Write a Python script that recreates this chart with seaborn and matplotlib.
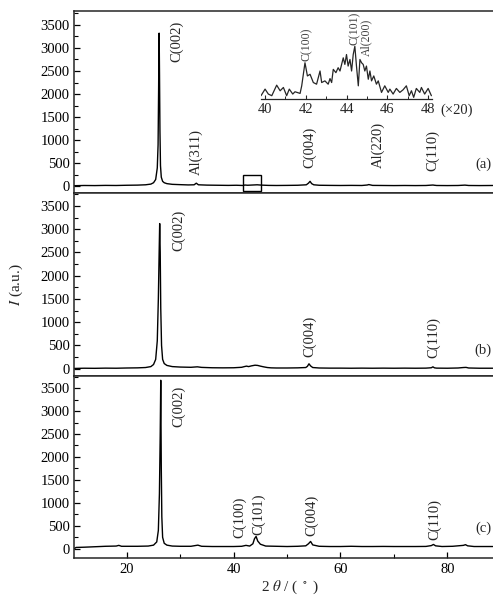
import matplotlib
matplotlib.use("Agg")
import matplotlib.pyplot as plt
from matplotlib.patches import Rectangle
from matplotlib.ticker import MultipleLocator
import seaborn as sns
import pandas as pd

# ---- data (2theta in degrees, intensity in a.u.) ----
tt_a = [10, 12, 14, 16, 18, 20, 22, 23.5, 24.5, 25.0, 25.4, 25.7, 25.85, 25.95, 26.0,
        26.05, 26.12, 26.2, 26.3, 26.45, 26.7, 27.0, 27.5, 28.5, 30, 31.5, 32.6, 33.0,
        33.4, 35, 37, 39, 40.5, 41.8, 42.1, 42.6, 43.5, 44.4, 45.2, 46.5, 48, 50, 52,
        53.6, 54.0, 54.3, 54.6, 55.0, 56, 58, 60, 62, 64, 65.0, 65.3, 66, 68, 70, 72,
        74, 76, 77.3, 77.6, 78, 80, 82, 83.3, 84, 86, 88.5]
int_a = [15, 20, 18, 22, 20, 25, 28, 35, 50, 80, 150, 400, 900, 2100, 2900,
         3320, 2400, 1200, 450, 200, 110, 80, 60, 45, 38, 32, 35, 70,
         35, 28, 25, 22, 25, 20, 30, 25, 30, 35, 28, 22, 20, 22, 25,
         35, 70, 110, 60, 35, 25, 22, 20, 22, 20, 30, 40, 22, 20, 18, 20,
         18, 20, 30, 25, 20, 18, 20, 28, 20, 18, 20]

tt_b = [10, 12, 14, 16, 18, 20, 22, 23.5, 24.5, 25.0, 25.4, 25.7, 25.9, 26.05, 26.15,
        26.25, 26.35, 26.5, 26.7, 27.0, 27.5, 28.5, 30, 32, 33.2, 34, 36, 38, 40, 41.5,
        42.0, 42.4, 42.8, 43.3, 44.0, 44.5, 45.0, 45.6, 46.3, 47, 48, 50, 52, 53.5, 53.8,
        54.1, 54.4, 54.8, 56, 58, 60, 62, 64, 66, 68, 70, 72, 74, 76, 77.0, 77.3, 77.6,
        78, 80, 82, 83.0, 83.5, 84, 86, 88.5]
int_b = [5, 10, 8, 12, 10, 15, 18, 25, 45, 90, 200, 600, 1500, 2500, 3120,
         2500, 1300, 500, 200, 110, 70, 45, 35, 30, 40, 28, 20, 18, 20, 30,
         45, 55, 45, 60, 75, 70, 55, 40, 25, 18, 15, 15, 18, 25, 50,
         105, 60, 25, 15, 12, 12, 10, 12, 10, 12, 10, 12, 10, 12, 20, 40, 18,
         12, 10, 15, 25, 28, 15, 10, 10]

tt_c = [10.1, 10.5, 12, 14, 16, 18, 18.5, 19, 20, 22, 24, 25.0, 25.6, 25.9, 26.1,
        26.25, 26.35, 26.45, 26.55, 26.7, 27.0, 27.5, 28.5, 30, 32, 33.3, 34, 36, 38,
        40, 41.5, 42.3, 43, 43.6, 43.9, 44.2, 44.5, 45, 46, 48, 50, 52, 53.5, 54.0,
        54.4, 54.8, 56, 58, 60, 62, 64, 66, 68, 70, 72, 74, 76, 77.0, 77.4, 77.8, 79,
        81, 83.0, 83.4, 83.8, 85, 88.5]
int_c = [0, 30, 35, 45, 55, 60, 75, 55, 55, 55, 60, 80, 150, 400, 1200,
         2500, 3670, 1770, 700, 250, 120, 80, 60, 55, 55, 80, 55, 50, 50,
         50, 55, 75, 60, 110, 220, 270, 170, 100, 60, 55, 50, 55, 65, 110,
         160, 85, 55, 50, 50, 55, 50, 50, 52, 50, 50, 50, 52, 70, 95, 65, 50,
         55, 75, 90, 65, 50, 50]

# inset: sample (a), 40-48 deg, magnified x20
tt_inset = [39.8, 40.0, 40.16, 40.33, 40.57, 40.74, 40.9, 41.06, 41.19, 41.36, 41.47,
            41.72, 41.8, 41.96, 42.08, 42.21, 42.37, 42.53, 42.7, 42.78, 42.94, 43.1,
            43.19, 43.27, 43.35, 43.48, 43.59, 43.68, 43.84, 43.92, 44.0, 44.08, 44.17,
            44.25, 44.33, 44.41, 44.49, 44.58, 44.66, 44.74, 44.82, 44.9, 44.98, 45.07,
            45.15, 45.23, 45.34, 45.47, 45.56, 45.72, 45.88, 46.05, 46.13, 46.29, 46.45,
            46.62, 46.78, 46.94, 47.08, 47.19, 47.3, 47.43, 47.6, 47.68, 47.84, 48.01, 48.17]
int_inset = [10, 30, 15, 10, 42, 25, 35, 10, 30, 15, 22,
             17, 40, 110, 70, 75, 50, 45, 85, 50, 55, 45,
             62, 50, 90, 80, 95, 85, 125, 105, 135, 100, 120,
             85, 135, 160, 100, 40, 120, 110, 105, 85, 100, 60,
             85, 55, 70, 45, 55, 20, 40, 20, 30, 15, 32,
             20, 28, 40, 10, 25, 5, 32, 20, 35, 15, 32, 10]

# peak labels: (text, 2theta, bottom of text in a.u.)
labels_a = [("C(002)", 29.4, 2700), ("Al(311)", 33.0, 240), ("C(004)", 54.3, 390),
            ("Al(220)", 67.1, 390), ("C(110)", 77.2, 340)]
labels_b = [("C(002)", 29.7, 2520), ("C(004)", 54.3, 250), ("C(110)", 77.4, 220)]
labels_c = [("C(002)", 29.7, 2660), ("C(100)", 41.2, 240), ("C(101)", 44.6, 305),
            ("C(004)", 54.6, 270), ("C(110)", 77.7, 200)]
labels_inset = [("C(100)", 42.05, 115), ("C(101)", 44.4, 165), ("Al(200)", 44.95, 130)]
panel_tags = ["(a)", "(b)", "(c)"]
panel_tag_y = [478, 396, 457]
zoom_box = (41.8, 45.2, -110, 240)  # region of (a) shown in the inset

ylims = [(-150, 3800), (-150, 3770), (-200, 3770)]

sns.set_theme(style="ticks")
plt.rcParams["font.family"] = ["Liberation Serif", "DejaVu Serif"]
plt.rcParams["mathtext.fontset"] = "stix"
plt.rcParams["axes.linewidth"] = 1.1

fig, axes = plt.subplots(3, 1, figsize=(4.93, 5.95), dpi=100, sharex=True)
fig.subplots_adjust(left=0.150, right=1.0, top=1 - 11 / 595, bottom=1 - 558 / 595,
                    hspace=0)

series = [(tt_a, int_a, labels_a), (tt_b, int_b, labels_b), (tt_c, int_c, labels_c)]
for i, (ax, (tt, ii, labs)) in enumerate(zip(axes, series)):
    df = pd.DataFrame({"2theta": tt, "I": ii})
    sns.lineplot(data=df, x="2theta", y="I", ax=ax, color="black", lw=1.0,
                 estimator=None, sort=False)
    ax.set_xlim(10.1, 88.55)
    ax.set_ylim(*ylims[i])
    ax.set_yticks(range(0, 3501, 500))
    ax.yaxis.set_minor_locator(MultipleLocator(250))
    ax.xaxis.set_major_locator(MultipleLocator(20))
    ax.xaxis.set_minor_locator(MultipleLocator(10))
    ax.tick_params(axis="both", which="both", direction="in", colors="black",
                   labelsize=10.5, right=False, top=False)
    ax.tick_params(which="major", length=4, width=0.9)
    ax.tick_params(which="minor", length=3, width=0.8)
    ax.tick_params(axis="y", pad=3)
    ax.spines["right"].set_visible(False)
    ax.set_xlabel("")
    ax.set_ylabel("")
    for txt, x, y in labs:
        ax.text(x, y, txt, rotation=90, ha="center", va="bottom", fontsize=10.5)
    ax.text(86.7, panel_tag_y[i], panel_tags[i], ha="center", va="center", fontsize=10.5)
    if i < 2:
        ax.tick_params(axis="x", which="both", bottom=False)

axes[0].add_patch(Rectangle((zoom_box[0], zoom_box[2]), zoom_box[1] - zoom_box[0],
                            zoom_box[3] - zoom_box[2], fill=False, ec="black", lw=1.0))

fig.text(16 / 493, 1 - 285 / 595, "$I$ (a.u.)", rotation=90, ha="center", va="center",
         fontsize=11)
fig.text(290 / 493, 1 - 587 / 595, r"2 $\theta$ / ( $^\circ$ )", ha="center",
         va="center", fontsize=11)

# inset
ins = fig.add_axes([261 / 493, 1 - 99 / 595, 171 / 493, 56 / 595])
sns.lineplot(x=tt_inset, y=int_inset, ax=ins, color="0.15", lw=0.9,
             estimator=None, sort=False)
ins.set_xlim(39.8, 48.2)
ins.set_ylim(0, 170)
ins.patch.set_alpha(0)
for s in ["left", "right", "top"]:
    ins.spines[s].set_visible(False)
ins.spines["bottom"].set_linewidth(0.9)
ins.set_yticks([])
ins.xaxis.set_major_locator(MultipleLocator(2))
ins.xaxis.set_minor_locator(MultipleLocator(1))
ins.tick_params(axis="x", which="both", direction="in", labelsize=10.5, pad=3)
ins.tick_params(which="major", length=3, width=0.8)
ins.tick_params(which="minor", length=2, width=0.7)
for txt, x, y in labels_inset:
    ins.text(x, y, txt, rotation=90, ha="center", va="bottom", fontsize=8.5, color="0.25")
fig.text(457 / 493, 1 - 110 / 595, "(×20)", ha="center", va="center", fontsize=10.5)

fig.savefig("out.png", dpi=100)
